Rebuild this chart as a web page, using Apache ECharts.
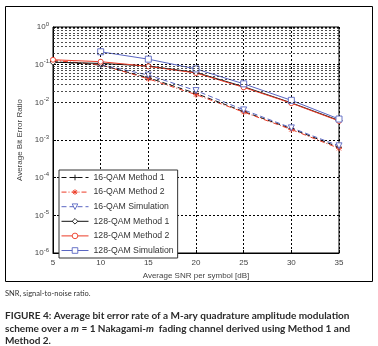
<!DOCTYPE html>
<html>
<head>
<meta charset="utf-8">
<script src="https://cdn.jsdelivr.net/npm/echarts@6/dist/echarts.min.js"></script>
<style>
  html, body { margin: 0; padding: 0; background: #fff; }
  #ber { width: 378px; height: 346px; }
</style>
</head>
<body>
<div id="ber"></div>
<script>
// SNR axis (dB)
var snr = [5, 10, 15, 20, 25, 30, 35];

// 16-QAM curves
var qam16m1  = [0.12, 0.098, 0.045, 0.0172, 0.0057, 0.002, 0.00064];
var qam16m2  = [0.13, 0.1, 0.042, 0.016, 0.0055, 0.0019, 0.0006];
var qam16sim = [null, 0.1, 0.053, 0.0205, 0.0063, 0.0021, 0.0007];

// 128-QAM curves
var qam128m1  = [0.116, 0.108, 0.092, 0.062, 0.026, 0.0097, 0.0033];
var qam128m2  = [0.135, 0.12, 0.09, 0.06, 0.025, 0.0095, 0.0032];
var qam128sim = [null, 0.22, 0.14, 0.077, 0.031, 0.0113, 0.0036];

var names = ['16-QAM Method 1', '16-QAM Method 2', '16-QAM Simulation',
             '128-QAM Method 1', '128-QAM Method 2', '128-QAM Simulation'];

var black = '#111', red = '#ec3b26', blue = '#5a66c2';
var sans = '"Liberation Sans"';

var plus = 'path://M5,0 L5,10 M0,5 L10,5';
var star = 'path://M5,0 L5,10 M0,5 L10,5 M1.5,1.5 L8.5,8.5 M8.5,1.5 L1.5,8.5';

// minor log grid lines (2..9 in every decade)
var minorLines = [];
for (var d = -6; d < 0; d++) {
  for (var k = 2; k <= 9; k++) minorLines.push({ yAxis: k * Math.pow(10, d) });
}

function pairs(arr) {
  return snr.map(function (x, i) { return [x, arr[i]]; });
}

function mk(name, data, color, type, symbol, size) {
  return {
    name: name,
    type: 'line',
    data: pairs(data),
    symbol: symbol,
    symbolSize: size,
    showAllSymbol: true,
    lineStyle: { color: color, width: 1, type: type },
    itemStyle: { color: '#fff', borderColor: color, borderWidth: 0.9 },
    emphasis: { disabled: true },
    z: 3
  };
}

var chart = echarts.init(document.getElementById('ber'), null, { renderer: 'canvas' });

var series = [
  mk(names[0], qam16m1, black, [5, 3], plus, 6),
  mk(names[1], qam16m2, red, [5, 2, 1, 2], star, 6),
  mk(names[2], qam16sim, blue, [5, 3], 'triangle', 6),
  mk(names[3], qam128m1, black, 'solid', 'diamond', 6),
  mk(names[4], qam128m2, red, 'solid', 'circle', 5),
  mk(names[5], qam128sim, blue, 'solid', 'rect', 6)
];
series[2].symbolRotate = 180;
series[0].markLine = {
  silent: true,
  symbol: 'none',
  label: { show: false },
  animation: false,
  lineStyle: { color: '#222', type: [2, 2], width: 0.8 },
  data: minorLines
};

var superRich = {
  b: { fontSize: 8, color: '#444', fontFamily: sans },
  s: { fontSize: 6, color: '#444', verticalAlign: 'top', padding: [0, 0, 6, 0], fontFamily: sans }
};

chart.setOption({
  animation: false,
  backgroundColor: '#fff',
  textStyle: { fontFamily: sans },
  grid: { left: 53, top: 27, width: 286, height: 226, show: true, borderColor: '#000', borderWidth: 1 },
  legend: {
    orient: 'vertical',
    left: 59,
    top: 170,
    data: names,
    backgroundColor: '#fff',
    borderColor: '#333',
    borderWidth: 1,
    padding: [3, 4, 3, 2],
    itemWidth: 27,
    itemHeight: 7,
    itemGap: 5.6,
    lineStyle: { width: 1 },
    itemStyle: { borderWidth: 0.9 },
    textStyle: { fontSize: 8.7, color: '#333', fontFamily: sans },
    selectedMode: false
  },
  xAxis: {
    type: 'value',
    min: 5, max: 35, interval: 5,
    name: 'Average SNR per symbol [dB]',
    nameLocation: 'middle',
    nameGap: 19,
    nameTextStyle: { fontSize: 8, color: '#444', fontFamily: sans },
    axisLine: { lineStyle: { color: '#000' } },
    axisTick: { inside: true, length: 3, lineStyle: { color: '#000' } },
    axisLabel: { fontSize: 8, color: '#444', margin: 6, fontFamily: sans },
    splitLine: { show: true, lineStyle: { color: '#000', type: [2, 2], width: 1 } }
  },
  yAxis: {
    type: 'log',
    logBase: 10,
    min: 1e-6, max: 1,
    name: 'Average Bit Error Ratio',
    nameLocation: 'middle',
    nameGap: 23,
    nameTextStyle: { fontSize: 8, color: '#444', fontFamily: sans },
    axisLine: { lineStyle: { color: '#000' } },
    axisTick: { inside: true, length: 3, lineStyle: { color: '#000' } },
    axisLabel: {
      margin: 4,
      formatter: function (v) {
        var e = Math.round(Math.log10(v));
        return '{b|10}{s|' + e + '}';
      },
      rich: superRich
    },
    splitLine: { show: true, lineStyle: { color: '#000', type: [2, 2], width: 1 } }
  },
  graphic: [
    { type: 'rect', shape: { x: 5.5, y: 6.5, width: 367, height: 275 }, style: { fill: null, stroke: '#000', lineWidth: 1 }, z: -1 },
    { type: 'text', left: 5, top: 290, style: { text: 'SNR, signal-to-noise ratio.', fontSize: 7.5, fill: '#333', fontFamily: 'Lato' } },
    { type: 'text', left: 5, top: 310, style: {
        text: 'FIGURE 4: Average bit error rate of a M-ary quadrature amplitude modulation\n' +
              'scheme over a {i|m} = 1 Nakagami-{i|m}  fading channel derived using Method 1 and\n' +
              'Method 2.',
        fontSize: 10, lineHeight: 12.5, fill: '#2a2a2a', fontWeight: 'bold', fontFamily: 'Lato',
        rich: { i: { fontStyle: 'italic', fontSize: 10, fontWeight: 'bold', fontFamily: 'Lato', fill: '#2a2a2a' } }
      } }
  ],
  series: series
});
</script>
</body>
</html>
